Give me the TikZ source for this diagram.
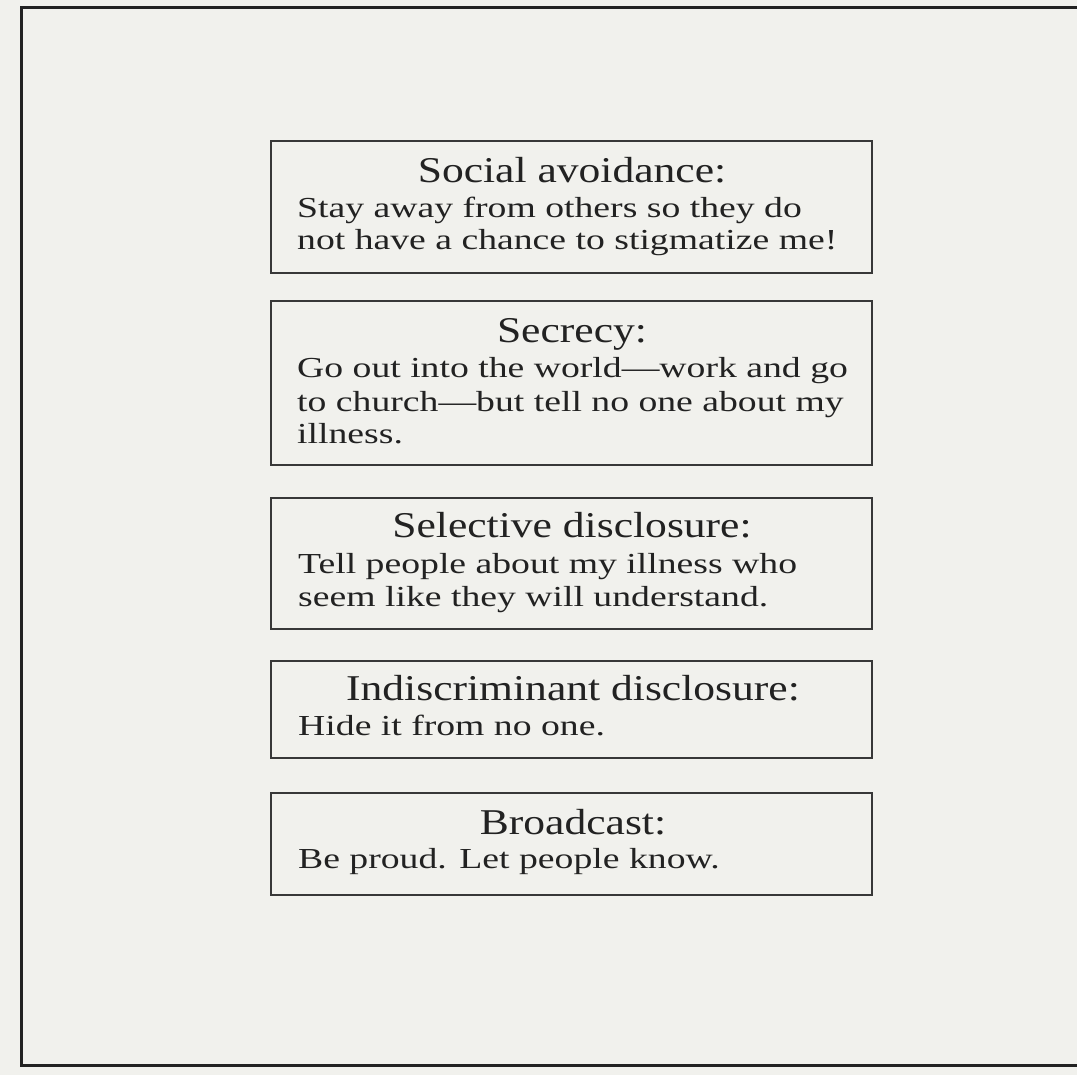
\documentclass[tikz,border=0pt]{standalone}
\usepackage{fontspec}
\newfontfamily\tfont[FakeStretch=1.2,Ligatures=TeX]{Liberation Serif}
\newfontfamily\bfontfam[FakeStretch=1.3,Ligatures=TeX]{Liberation Serif}
\definecolor{bg}{HTML}{F1F1ED}
\definecolor{ink}{HTML}{222222}
\tikzset{
  box/.style={draw=ink!90, line width=2pt, minimum width=601pt, inner sep=0pt, anchor=north},
  ttl/.style={anchor=base, inner sep=0pt, text=ink, font=\tfont\fontsize{36.3}{40}\selectfont},
  body/.style={anchor=base west, inner sep=0pt, text=ink, font=\bfontfam\fontsize{29}{32}\selectfont}
}
\begin{document}
\begin{tikzpicture}[x=1pt,y=-1pt]
\useasboundingbox (0,0) rectangle (1077,1075);
\fill[bg] (0,0) rectangle (1077,1075);
\coordinate (ftr) at (1077,8);
\coordinate (ftl) at (21,8);
\coordinate (fbl) at (21,1065);
\coordinate (fbr) at (1077,1065);
\draw[ink, line width=3pt] (ftr) -- (ftl) -- (fbl) -- (fbr);
% boxes
\node[box, minimum height=132pt] (b1) at (571.5,140) {};
\node[box, minimum height=164pt] (b2) at (571.5,300) {};
\node[box, minimum height=131pt] (b3) at (571.5,497) {};
\node[box, minimum height=97pt] (b4) at (571.5,660) {};
\node[box, minimum height=102pt] (b5) at (571.5,792) {};
% box 1
\node[ttl] (t1) at (572,183) {Social avoidance:};
\node[body] (l11) at (297,218) {Stay away from others so they do};
\node[body] (l12) at (297,250) {not have a chance to stigmatize me!};
% box 2
\node[ttl] (t2) at (572,343) {Secrecy:};
\node[body] (l21) at (297,378) {Go out into the world\textemdash work and go};
\node[body] (l22) at (297,411) {to church\textemdash but tell no one about my};
\node[body] (l23) at (297,443) {illness.};
% box 3
\node[ttl] (t3) at (572,537) {Selective disclosure:};
\node[body] (l31) at (298,573) {Tell people about my illness who};
\node[body] (l32) at (298,606) {seem like they will understand.};
% box 4
\node[ttl] (t4) at (573,700) {Indiscriminant disclosure:};
\node[body] (l41) at (298,735) {Hide it from no one.};
% box 5
\node[ttl] (t5) at (573,834) {Broadcast:};
\node[body] (l51) at (298,868) {Be proud. Let people know.};
\end{tikzpicture}
\end{document}
